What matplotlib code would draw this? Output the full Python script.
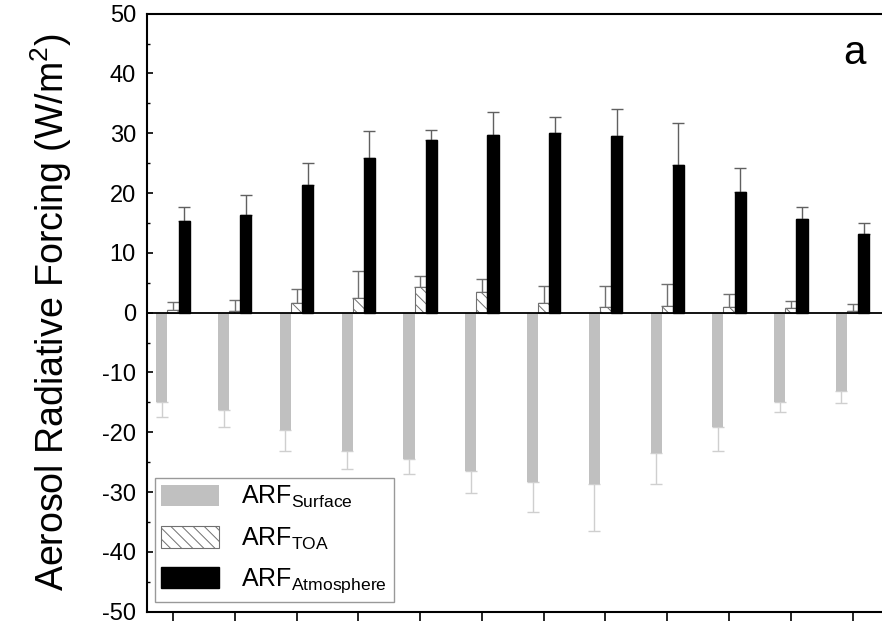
import matplotlib.pyplot as plt
import numpy as np

plt.rcParams['font.family'] = 'Liberation Sans'
plt.rcParams['mathtext.fontset'] = 'custom'
plt.rcParams['mathtext.rm'] = 'Liberation Sans'
plt.rcParams['mathtext.it'] = 'Liberation Sans'
plt.rcParams['axes.unicode_minus'] = False
plt.rcParams['hatch.linewidth'] = 0.7

# Data (W/m^2)
months = np.arange(1, 13)
arf_surface = [-14.9, -16.3, -19.7, -23.2, -24.5, -26.4, -28.3, -28.6, -23.5, -19.1, -14.9, -13.1]
err_surface = [2.5, 2.9, 3.4, 3.0, 2.4, 3.8, 5.0, 7.9, 5.2, 4.0, 1.7, 2.0]
arf_toa = [0.4, 0.2, 1.6, 2.5, 4.3, 3.4, 1.7, 0.9, 1.1, 0.9, 0.7, 0.2]
err_toa = [1.4, 1.9, 2.3, 4.4, 1.9, 2.2, 2.7, 3.5, 3.7, 2.2, 1.2, 1.2]
arf_atm = [15.4, 16.4, 21.4, 25.8, 28.8, 29.7, 30.1, 29.6, 24.7, 20.1, 15.7, 13.2]
err_atm = [2.3, 3.2, 3.6, 4.6, 1.8, 3.9, 2.7, 4.5, 7.0, 4.1, 1.9, 1.8]

fig = plt.figure(figsize=(8.82, 6.21), dpi=100)
ax = fig.add_axes([0.1667, 0.015, 0.842, 0.9630])

w = 0.18
zeros = np.zeros(len(months))

# error bars (one-sided), drawn behind the bars
ax.errorbar(months - w, arf_surface, yerr=[err_surface, zeros], fmt='none',
            ecolor='#cfcfcf', elinewidth=1.0, capsize=4.5, capthick=1.0, zorder=1)
ax.errorbar(months, arf_toa, yerr=[zeros, err_toa], fmt='none',
            ecolor='#707070', elinewidth=1.0, capsize=4.5, capthick=1.0, zorder=1)
ax.errorbar(months + w, arf_atm, yerr=[zeros, err_atm], fmt='none',
            ecolor='#606060', elinewidth=1.0, capsize=4.5, capthick=1.0, zorder=1)

ax.bar(months - w, arf_surface, w, color='#c0c0c0', edgecolor='none',
       label=r'ARF$_{\mathrm{Surface}}$', zorder=2)
ax.bar(months, arf_toa, w, color='white', edgecolor='#707070', hatch='\\\\\\',
       linewidth=0.8, label=r'ARF$_{\mathrm{TOA}}$', zorder=2)
ax.bar(months + w, arf_atm, w, color='black', edgecolor='black',
       label=r'ARF$_{\mathrm{Atmosphere}}$', zorder=2)

ax.axhline(0, color='black', linewidth=1.3, zorder=3)

ax.set_xlim(0.58, 12.6)
ax.set_ylim(-50, 50)
ax.set_xticks(months)
ax.set_xticklabels([''] * len(months))
ax.set_yticks(np.arange(-50, 51, 10))
ax.set_yticks(np.arange(-45, 50, 10), minor=True)
ax.tick_params(axis='x', direction='out', length=7, width=1.2)
ax.tick_params(axis='y', which='major', direction='in', length=4, width=1.2,
               labelsize=17, pad=8)
ax.tick_params(axis='y', which='minor', direction='in', length=2.5, width=1.0)
for s in ax.spines.values():
    s.set_linewidth(1.5)

ax.set_ylabel('Aerosol Radiative Forcing (W/m$^2$)', fontsize=27, labelpad=20)
ax.text(0.952, 0.935, 'a', transform=ax.transAxes, fontsize=29,
        ha='center', va='center')

leg = ax.legend(loc='lower left', bbox_to_anchor=(0.011, 0.017), borderaxespad=0,
                fontsize=18, handlelength=2.3, handleheight=0.95, labelspacing=0.6,
                fancybox=False, frameon=True, borderpad=0.25, handletextpad=0.9)
leg.get_frame().set_edgecolor('#808080')
leg.get_frame().set_linewidth(1.0)

fig.savefig('out.png', dpi=100)
